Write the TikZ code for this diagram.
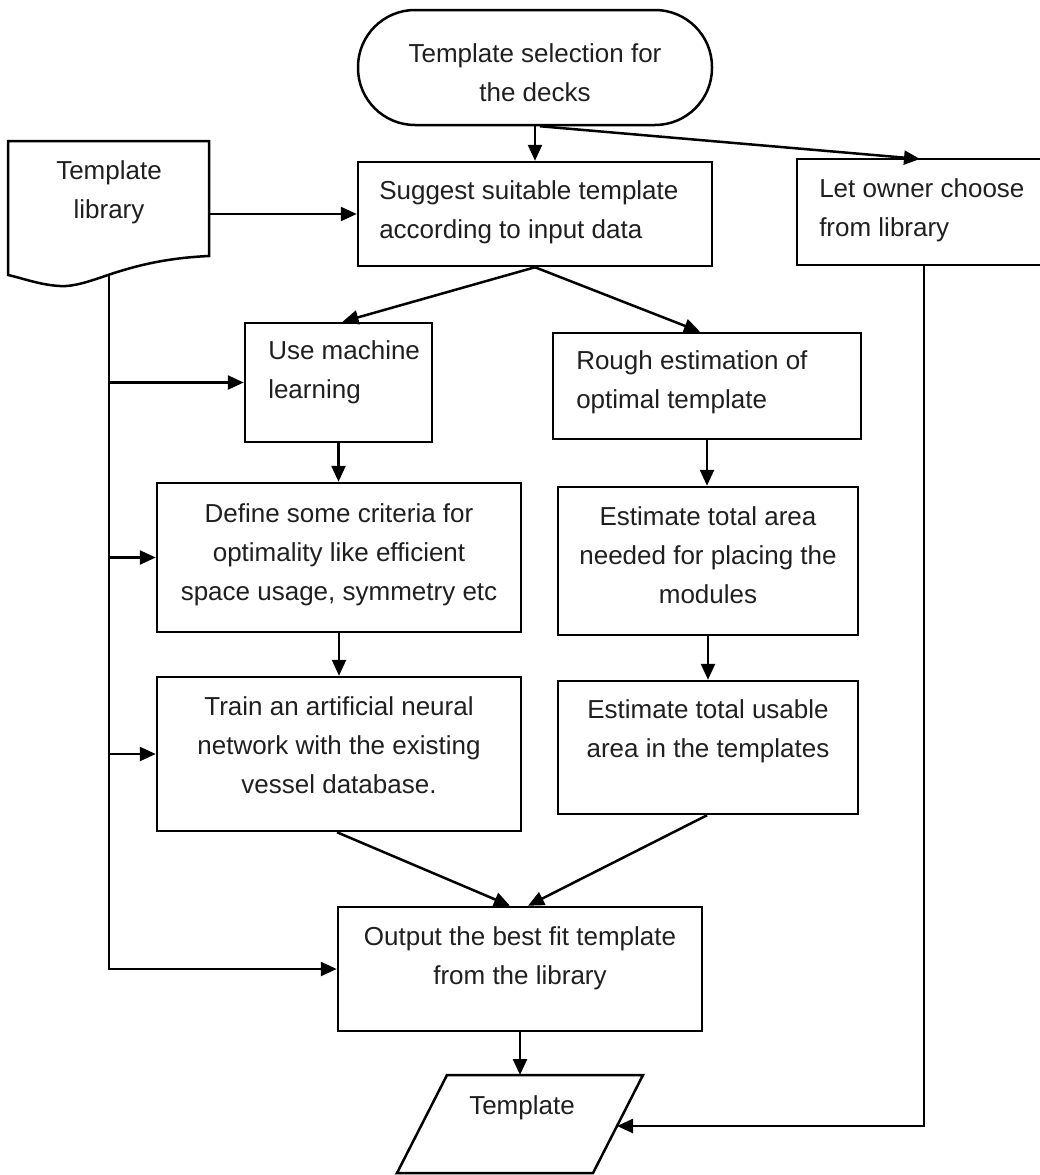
\documentclass[tikz,border=0pt]{standalone}
\usepackage{fontspec}
\setmainfont{Liberation Sans}
\usetikzlibrary{arrows.meta,calc}
\begin{document}
\begin{tikzpicture}[x=1pt,y=-1pt,
  line width=2.5pt,
  every node/.style={font=\fontsize{26}{39}\selectfont, text=black!88},
  box/.style={draw, rectangle, inner sep=0pt, line width=2.5pt},
  flow/.style={draw, line width=2.5pt, -{Triangle[length=16pt,width=14pt]}},
  txt/.style={inner sep=0pt, align=center},
  ltxt/.style={inner sep=0pt, align=left, anchor=west},
]
\useasboundingbox (0,0) rectangle (1040,1175);

% start terminal
\node[box, rounded corners=57pt, minimum width=354pt, minimum height=115pt] (start) at (535,67.5) {};
\node[txt] (startT) at (535,73) {Template selection for\\the decks};

% template library (document shape)
\draw (8,141) -- (209,141) -- (209,256)
  .. controls (165,258) and (135,266) .. (108,275)
  .. controls (88,282) and (72,287) .. (60,286)
  .. controls (40,285) and (22,278) .. (8,275) -- cycle;
\node[txt] (libT) at (109,192) {Template\\library};
\coordinate (libE) at (209,214);
\coordinate (libfoot) at (109,275);

% process boxes
\node[box, minimum width=354pt, minimum height=104pt] (suggest) at (535,214) {};
\node[ltxt] (suggestT) at (378,212) {Suggest suitable template\\according to input data};

\node[box, minimum width=254pt, minimum height=106pt] (owner) at (924,212) {};
\node[ltxt] (ownerT) at (818,210) {Let owner choose\\from library};

\node[box, minimum width=187pt, minimum height=119pt] (useml) at (338.5,382.5) {};
\node[ltxt] (usemlT) at (267,372) {Use machine\\learning};

\node[box, minimum width=308pt, minimum height=106pt] (rough) at (707,386) {};
\node[ltxt] (roughT) at (575,382) {Rough estimation of\\optimal template};

\node[box, minimum width=364pt, minimum height=149pt] (define) at (339,557.5) {};
\node[txt] (defineT) at (339,555) {Define some criteria for\\optimality like efficient\\space usage, symmetry etc};

\node[box, minimum width=300pt, minimum height=148pt] (area) at (708,561) {};
\node[txt] (areaT) at (708,555) {Estimate total area\\needed for placing the\\modules};

\node[box, minimum width=364pt, minimum height=154pt] (train) at (339,754) {};
\node[txt] (trainT) at (339,745) {Train an artificial neural\\network with the existing\\vessel database.};

\node[box, minimum width=300pt, minimum height=133pt] (usable) at (708,747.5) {};
\node[txt] (usableT) at (708,731) {Estimate total usable\\area in the templates};

\node[box, minimum width=364pt, minimum height=124pt] (output) at (520,969) {};
\node[txt] (outputT) at (520,958.5) {Output the best fit template\\from the library};

% output data (parallelogram)
\draw (447,1075) -- (643,1075) -- (593,1173) -- (397,1173) -- cycle;
\node[txt] (tplT) at (522,1108) {Template};
\coordinate (tplTop) at (520,1075);
\coordinate (tplRight) at (617,1126);

% connectors
\coordinate (ownerIn) at (920,159);
\draw[flow] (start.south) -- (suggest.north);
\draw[flow] ($(start.south)+(5,0)$) -- (ownerIn);
\draw[flow] (libE) -- (suggest.west);
\draw[flow] (suggest.south) -- ($(useml.north)+(4,0)$);
\draw[flow] (suggest.south) -- ($(rough.north)+(-7,0)$);
\draw[flow] (useml.south) -- (useml.south |- define.north);
\draw[flow] (define.south) -- (train.north);
\draw[flow] (rough.south) -- (rough.south |- area.north);
\draw[flow] (area.south) -- (usable.north);
\draw[flow] ($(train.south)+(-2,0)$) -- ($(output.north)+(-10,0)$);
\draw[flow] ($(usable.south)+(-1,0)$) -- ($(output.north)+(8,0)$);
\draw[flow] (output.south) -- (tplTop);

% library feed line
\draw[flow] (libfoot) |- (output.west);
\draw[flow] (libfoot |- useml.west) -- (useml.west);
\draw[flow] (libfoot |- define.west) -- (define.west);
\draw[flow] (libfoot |- train.west) -- (train.west);

% owner choice to template
\draw[flow] (owner.south) |- (tplRight);
\end{tikzpicture}
\end{document}
